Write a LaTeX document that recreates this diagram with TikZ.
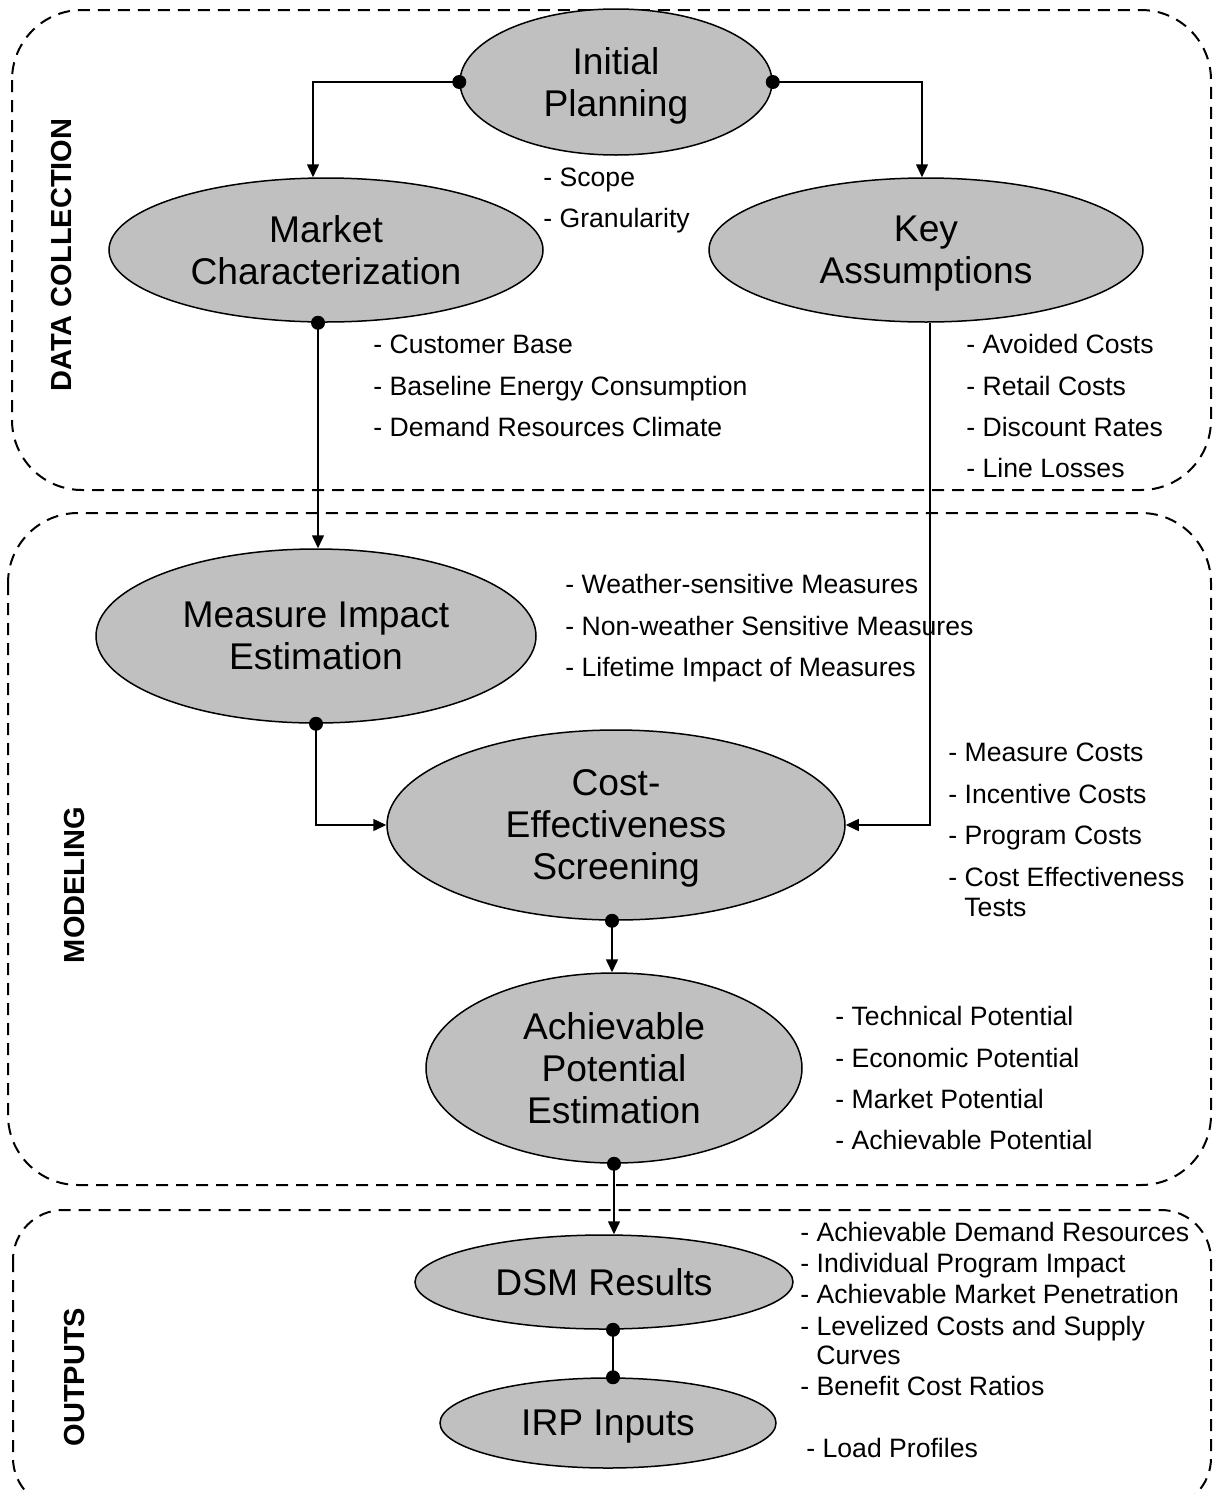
\documentclass[tikz,border=0pt]{standalone}
\usepackage{fontspec}
\setmainfont{Liberation Sans}
\usepackage{xcolor}
\usetikzlibrary{shapes.geometric, positioning, calc, arrows.meta}
\definecolor{stagegray}{RGB}{192,192,192}

\begin{document}
\begin{tikzpicture}[x=0.5pt, y=-0.5pt, >={Triangle[length=6.5pt,width=6pt]},
    stage/.style={ellipse, draw, line width=0.75pt, fill=stagegray, inner sep=0pt,
        align=center, text depth=0pt, font=\fontsize{18.6}{21}\selectfont},
    note/.style={anchor=west, inner sep=0pt, font=\fontsize{13.3}{15}\selectfont,
        text height=9pt, text depth=2.5pt},
    phase/.style={dash pattern=on 6pt off 4pt, line width=1pt, rounded corners=35pt},
    phaselabel/.style={rotate=90, inner sep=0pt, font=\bfseries\fontsize{14.5}{16}\selectfont},
    link/.style={line width=0.75pt}]
    \useasboundingbox (0,0) rectangle (1213,1494);
    \clip (0,0) rectangle (1213,1494);

    % Dashed phase boxes
    \draw[phase] (12,10) rectangle (1211,490);
    \draw[phase] (8,513) rectangle (1211,1185);
    \draw[phase, rounded corners=25pt] (13,1210) rectangle (1211,1508);

    % Phase labels
    \node[phaselabel] (dcl) at (62,255) {DATA COLLECTION};
    \node[phaselabel] (mdl) at (75,885) {MODELING};
    \node[phaselabel] (outl) at (75,1377) {OUTPUTS};

    % Stages
    \node[stage, minimum width=156pt, minimum height=73pt] (ip) at (616,82) {Initial\\Planning};
    \node[stage, minimum width=217pt, minimum height=72pt] (mc) at (326,250) {Market\\Characterization};
    \node[stage, minimum width=217pt, minimum height=72pt] (ka) at (926,250) {Key\\Assumptions};
    \node[stage, minimum width=220pt, minimum height=87pt] (mi) at (316,636) {Measure Impact\\Estimation};
    \node[stage, minimum width=229pt, minimum height=95pt] (ce) at (616,825) {Cost-\\Effectiveness\\Screening};
    \node[stage, minimum width=188pt, minimum height=95pt] (ap) at (614,1068) {Achievable\\Potential\\Estimation};
    \node[stage, minimum width=189pt, minimum height=47pt] (dsm) at (604,1282) {DSM Results};
    \node[stage, minimum width=168pt, minimum height=45pt] (irp) at (608,1423) {IRP Inputs};

    % Connectors
    \draw[link, ->] (ip.west) -| ([xshift=-6.5pt]mc.north);
    \fill (ip.west) circle (3.5pt);
    \draw[link, ->] (ip.east) -| ([xshift=-2pt]ka.north);
    \fill (ip.east) circle (3.5pt);
    \draw[link, ->] ([xshift=-4pt]mc.south) -- ([xshift=-4pt]mc.south |- mi.north);
    \fill ([xshift=-4pt]mc.south) circle (3.5pt);
    \draw[link, ->] ([xshift=2pt]ka.south) |- (ce.east);
    \draw[link, ->] (mi.south) |- (ce.west);
    \fill (mi.south) circle (3.5pt);
    \draw[link, ->] ([xshift=-2pt]ce.south) -- ([xshift=-2pt]ce.south |- ap.north);
    \fill ([xshift=-2pt]ce.south) circle (3.5pt);
    \draw[link, ->] (ap.south) -- (ap.south |- dsm.north);
    \fill (ap.south) circle (3.5pt);
    \draw[link] ([xshift=4.5pt]dsm.south) -- ([xshift=2.5pt]irp.north);
    \fill ([xshift=4.5pt]dsm.south) circle (3.5pt);
    \fill ([xshift=2.5pt]irp.north) circle (3.5pt);

    % Notes beside each stage
    \node[note] (ipn1) at (543,180) {- Scope};
    \node[note] (ipn2) at (543,221) {- Granularity};

    \node[note] (mcn1) at (373,347) {- Customer Base};
    \node[note] (mcn2) at (373,389) {- Baseline Energy Consumption};
    \node[note] (mcn3) at (373,430) {- Demand Resources Climate};

    \node[note] (kan1) at (966,347) {- Avoided Costs};
    \node[note] (kan2) at (966,389) {- Retail Costs};
    \node[note] (kan3) at (966,430) {- Discount Rates};
    \node[note] (kan4) at (966,471) {- Line Losses};

    \node[note] (min1) at (565,587) {- Weather-sensitive Measures};
    \node[note] (min2) at (565,629) {- Non-weather Sensitive Measures};
    \node[note] (min3) at (565,670) {- Lifetime Impact of Measures};

    \node[note] (cen1) at (948,755) {- Measure Costs};
    \node[note] (cen2) at (948,797) {- Incentive Costs};
    \node[note] (cen3) at (948,838) {- Program Costs};
    \node[note] (cen4) at (948,880) {- Cost Effectiveness};
    \node[note] (cen5) at (964,910) {Tests};

    \node[note] (apn1) at (835,1019) {- Technical Potential};
    \node[note] (apn2) at (835,1061) {- Economic Potential};
    \node[note] (apn3) at (835,1102) {- Market Potential};
    \node[note] (apn4) at (835,1143) {- Achievable Potential};

    \node[note] (outn1) at (800,1235) {- Achievable Demand Resources};
    \node[note] (outn2) at (800,1266) {- Individual Program Impact};
    \node[note] (outn3) at (800,1297) {- Achievable Market Penetration};
    \node[note] (outn4) at (800,1329) {- Levelized Costs and Supply};
    \node[note] (outn5) at (816,1358) {Curves};
    \node[note] (outn6) at (800,1389) {- Benefit Cost Ratios};
    \node[note] (outn7) at (806,1451) {- Load Profiles};

\end{tikzpicture}
\end{document}
